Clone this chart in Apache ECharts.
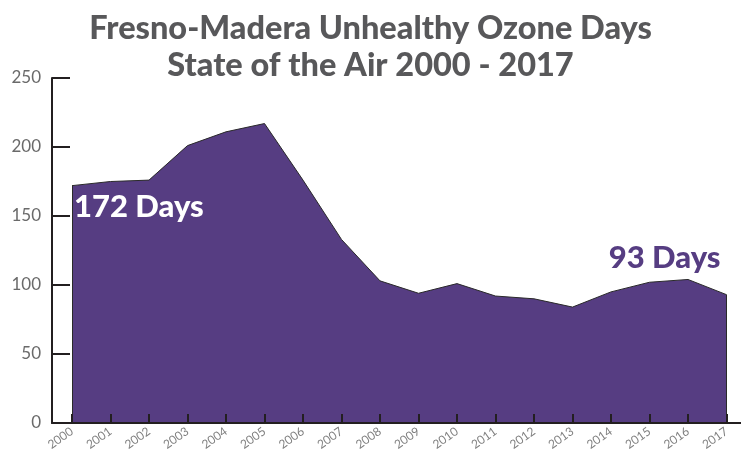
<!DOCTYPE html>
<html>
<head>
<meta charset="utf-8">
<script src="https://cdn.jsdelivr.net/npm/echarts@6/dist/echarts.min.js"></script>
<style>
  html, body { margin: 0; padding: 0; background: #fff; }
  #chart { width: 741px; height: 460px; }
</style>
</head>
<body>
<div id="chart"></div>
<script>
// 数据
const years = ['2000', '2001', '2002', '2003', '2004', '2005', '2006', '2007', '2008',
  '2009', '2010', '2011', '2012', '2013', '2014', '2015', '2016', '2017'];
const ozoneDays = [172, 175, 176, 201, 211, 217, 176, 133, 103, 94, 101, 92, 90, 84, 95, 102, 104, 93];
const titleLines = ['Fresno-Madera Unhealthy Ozone Days', 'State of the Air 2000 - 2017'];
const firstLabel = '172 Days';
const lastLabel = '93 Days';

const purple = '#563d82';
const grey = '#58585a';
const axisColor = '#231f20';

const chart = echarts.init(document.getElementById('chart'));

const last = years.length - 1;

const option = {
  animation: false,
  title: {
    text: titleLines.join('\n'),
    left: 'center',
    top: 5,
    textStyle: {
      fontFamily: 'Lato',
      fontWeight: 900,
      fontSize: 32.5,
      lineHeight: 37,
      color: grey
    }
  },
  grid: [
    { left: 72, right: 14.5, top: 78, bottom: 37 },
    // 只用来画整条 x 轴线
    { left: 52, right: 0, top: 78, bottom: 37 }
  ],
  xAxis: [{
    type: 'category',
    data: years,
    boundaryGap: false,
    axisLine: { show: false },
    axisTick: {
      show: true,
      inside: true,
      length: 9,
      alignWithLabel: true,
      lineStyle: { color: axisColor, width: 2 }
    },
    axisLabel: {
      rotate: 35,
      margin: 7,
      fontFamily: 'Lato',
      fontSize: 12,
      color: '#808080'
    },
    z: 10
  }, {
    gridIndex: 1,
    type: 'value',
    min: 0,
    max: 1,
    axisLine: { show: true, lineStyle: { color: axisColor, width: 2 } },
    axisTick: { show: false },
    axisLabel: { show: false },
    splitLine: { show: false },
    z: 10
  }],
  yAxis: [{
    type: 'value',
    min: 0,
    max: 250,
    interval: 50,
    offset: 20,
    axisLine: { show: true, lineStyle: { color: axisColor, width: 2 } },
    axisTick: {
      show: true,
      inside: true,
      length: 18,
      lineStyle: { color: axisColor, width: 2 }
    },
    axisLabel: {
      margin: 11,
      fontFamily: 'Lato',
      fontSize: 17,
      color: '#6a6a6a'
    },
    splitLine: { show: false }
  }, {
    gridIndex: 1,
    type: 'value',
    show: false
  }],
  series: [{
    type: 'line',
    data: ozoneDays,
    symbol: 'none',
    lineStyle: { color: '#2a2a2a', width: 1 },
    areaStyle: { color: purple, opacity: 1 },
    markLine: {
      silent: true,
      symbol: 'none',
      label: { show: false },
      lineStyle: { color: '#2a2a2a', width: 1, type: 'solid' },
      data: [
        [{ coord: [years[0], 0] }, { coord: [years[0], ozoneDays[0]] }],
        [{ coord: [years[last], 0] }, { coord: [years[last], ozoneDays[last]] }]
      ]
    },
    markPoint: {
      symbol: 'circle',
      symbolSize: 0,
      data: [
        {
          coord: [years[0], ozoneDays[0]],
          label: {
            show: true,
            formatter: firstLabel,
            position: 'right',
            offset: [-3, 21],
            fontFamily: 'Lato',
            fontWeight: 900,
            fontSize: 31,
            color: '#fff'
          }
        },
        {
          coord: [years[last], ozoneDays[last]],
          label: {
            show: true,
            formatter: lastLabel,
            position: 'left',
            offset: [-1, -37],
            fontFamily: 'Lato',
            fontWeight: 900,
            fontSize: 31,
            color: purple
          }
        }
      ]
    }
  }]
};

chart.setOption(option);
window.addEventListener('resize', () => chart.resize());
</script>
</body>
</html>
